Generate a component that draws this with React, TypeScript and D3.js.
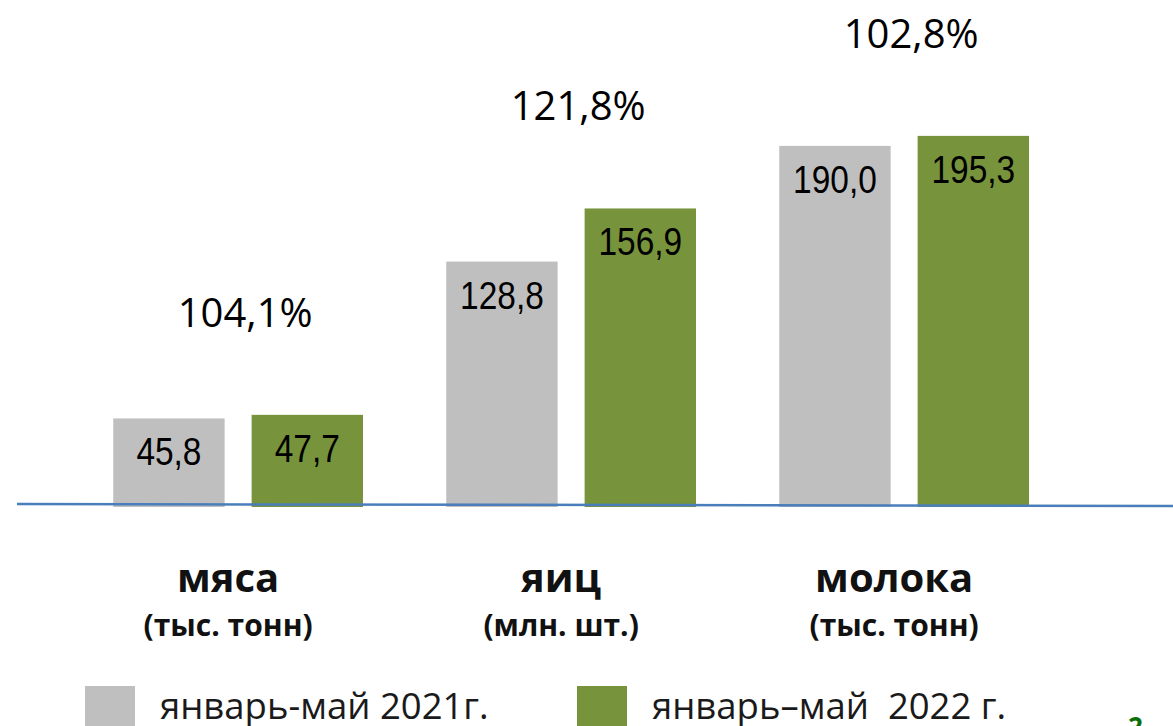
import React, { useEffect, useRef } from 'react';
import * as d3 from 'd3';

// Data
const categories = ['мяса', 'яиц', 'молока'];
const units = ['(тыс. тонн)', '(млн. шт.)', '(тыс. тонн)'];
const series = ['январь-май 2021г.', 'январь–май  2022 г.'];
const values2021 = [45.8, 128.8, 190.0];
const values2022 = [47.7, 156.9, 195.3];
const growth = ['104,1%', '121,8%', '102,8%'];

const colors = ['#bfbfbf', '#77933c'];
const fmt = (v: number) => v.toFixed(1).replace('.', ',');

export default function App() {
  const ref = useRef<SVGSVGElement>(null);

  useEffect(() => {
    const svg = d3.select(ref.current);
    svg.selectAll('*').remove();

    const width = 1173;
    const base = 505;

    // Scales
    const x = d3.scaleBand().domain(categories).range([30, 1112.25]).paddingInner(0.25).paddingOuter(0.25);
    const xs = d3.scaleBand().domain(['0', '1']).range([0, x.bandwidth()]).paddingInner(0.195);
    const y = d3.scaleLinear().domain([0, 200]).range([base, base - 378]);

    const rows = categories.map((c, i) => ({ c, i, vals: [values2021[i], values2022[i]] }));

    const group = svg.selectAll('.grp')
      .data(rows)
      .enter().append('g')
      .attr('class', 'grp')
      .attr('transform', d => 'translate(' + x(d.c) + ',0)');

    // Bars
    const bars = group.selectAll('.bar')
      .data(d => d.vals.map((v, k) => ({ v, k })))
      .enter();

    bars.append('rect')
      .attr('x', d => xs(String(d.k))!)
      .attr('y', d => y(d.v))
      .attr('width', xs.bandwidth())
      .attr('height', d => base + 2 - y(d.v))
      .attr('fill', d => colors[d.k]);

    // Value labels (slightly narrowed like the original)
    bars.append('text')
      .attr('transform', d => 'translate(' + (xs(String(d.k))! + xs.bandwidth() / 2) + ',' + (y(d.v) + 47) + ') scale(0.88,1)')
      .attr('text-anchor', 'middle')
      .style('font-family', "'Liberation Sans', Arial, sans-serif")
      .style('font-size', '38px')
      .attr('fill', '#000')
      .text(d => fmt(d.v));

    // Growth percentages
    group.append('text')
      .attr('x', x.bandwidth() / 2 + 7)
      .attr('y', d => y(d3.max(d.vals)!) - 88)
      .attr('text-anchor', 'middle')
      .style('font-family', "'Open Sans', sans-serif")
      .style('font-size', '40px')
      .attr('fill', '#000')
      .text(d => growth[d.i]);

    // Category labels
    group.append('text')
      .attr('x', x.bandwidth() / 2 - 10)
      .attr('y', 592)
      .attr('text-anchor', 'middle')
      .style('font-family', "'Open Sans', sans-serif")
      .style('font-weight', 'bold')
      .style('font-size', '40px')
      .attr('fill', '#111')
      .text(d => d.c);

    group.append('text')
      .attr('x', x.bandwidth() / 2 - 10)
      .attr('y', 636)
      .attr('text-anchor', 'middle')
      .style('font-family', "'Open Sans', sans-serif")
      .style('font-weight', 'bold')
      .style('font-size', '30px')
      .attr('fill', '#111')
      .text(d => units[d.i]);

    // Baseline
    svg.append('line')
      .attr('x1', 17).attr('y1', base - 1)
      .attr('x2', width).attr('y2', base + 1)
      .attr('stroke', '#4a7ebb')
      .attr('stroke-width', 2.5);

    // Legend
    const legendX = [85, 577];
    const legend = svg.selectAll('.legend')
      .data(series)
      .enter().append('g')
      .attr('class', 'legend')
      .attr('transform', (d, i) => 'translate(' + legendX[i] + ',686)');

    legend.append('rect')
      .attr('width', 50)
      .attr('height', 40)
      .attr('fill', (d, i) => colors[i]);

    legend.append('text')
      .attr('x', 75)
      .attr('y', 33)
      .style('font-family', "'Open Sans', sans-serif")
      .style('font-size', '36.5px')
      .style('white-space', 'pre')
      .attr('fill', '#1a1a1a')
      .text(d => d);

    // slide number, cut off at the bottom
    svg.append('text')
      .attr('x', 1128)
      .attr('y', 736)
      .style('font-family', "'Open Sans', sans-serif")
      .style('font-weight', 'bold')
      .style('font-size', '26px')
      .attr('fill', '#0b6f0b')
      .text('2');
  }, []);

  return (
    <svg ref={ref} width={1173} height={726}
      style={{ position: 'absolute', left: 0, top: 0, background: '#fff' }} />
  );
}
